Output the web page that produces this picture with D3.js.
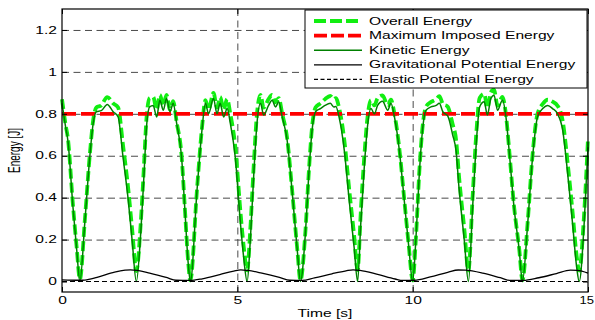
<!DOCTYPE html>
<html>
<head>
<meta charset="utf-8">
<script src="https://cdn.jsdelivr.net/npm/d3@7"></script>
<style>
  body { margin: 0; background: #fff; }
  svg { display: block; font-family: "Liberation Sans", Arial, sans-serif; }
</style>
</head>
<body>
<div id="chart"></div>
<script>
// tick values
const xTicks = [0, 5, 10, 15];
const yTicks = [0, 0.2, 0.4, 0.6, 0.8, 1, 1.2];
const xGrid = [5, 10];
const yGrid = [0.2, 0.4, 0.6, 0.8, 1, 1.2];

const maxImposed = 0.8;

// [time s, energy J]
const kineticEnergy = [
  [0, 0.85], [0.1, 0.74], [0.17, 0.67], [0.31, 0.36], [0.42, 0.15], [0.51, 0],
  [0.65, 0.28], [0.79, 0.59], [0.89, 0.755], [0.98, 0.81], [1.12, 0.815], [1.29, 0.845],
  [1.46, 0.81], [1.6, 0.785], [1.74, 0.594], [1.89, 0.387], [2.0, 0.196], [2.12, 0],
  [2.25, 0.244], [2.34, 0.515], [2.41, 0.737], [2.5, 0.833], [2.6, 0.84], [2.7, 0.785],
  [2.79, 0.865], [2.89, 0.817], [2.98, 0.873], [3.08, 0.81], [3.17, 0.85], [3.27, 0.754],
  [3.41, 0.594], [3.5, 0.355], [3.6, 0.085], [3.66, 0],
  [3.85, 0.435], [3.99, 0.72], [4.09, 0.85], [4.18, 0.8], [4.32, 0.873], [4.42, 0.8],
  [4.51, 0.85], [4.61, 0.785], [4.71, 0.825], [4.8, 0.754], [4.94, 0.594], [5.09, 0.276],
  [5.18, 0.116], [5.28, 0],
  [5.37, 0.196], [5.47, 0.515], [5.56, 0.754], [5.66, 0.85], [5.75, 0.794], [5.89, 0.84],
  [5.99, 0.865], [6.09, 0.833], [6.18, 0.857], [6.28, 0.785], [6.42, 0.674], [6.56, 0.435],
  [6.71, 0.148], [6.8, 0],
  [6.94, 0.228], [7.04, 0.515], [7.13, 0.72], [7.23, 0.81], [7.37, 0.825], [7.5, 0.84],
  [7.65, 0.85], [7.75, 0.833], [7.81, 0.835], [7.9, 0.785], [8.05, 0.626], [8.19, 0.387],
  [8.33, 0.164], [8.43, 0],
  [8.52, 0.276], [8.62, 0.546], [8.71, 0.737], [8.81, 0.825], [8.91, 0.8], [9.0, 0.84],
  [9.14, 0.86], [9.29, 0.817], [9.38, 0.85], [9.48, 0.785], [9.62, 0.626], [9.76, 0.387],
  [9.89, 0.164], [10.0, 0],
  [10.09, 0.196], [10.19, 0.515], [10.29, 0.737], [10.38, 0.817], [10.52, 0.833], [10.67, 0.84],
  [10.76, 0.85], [10.86, 0.81], [11.0, 0.79], [11.14, 0.7], [11.24, 0.62], [11.32, 0.45],
  [11.47, 0.2], [11.59, 0],
  [11.71, 0.355], [11.82, 0.674], [11.91, 0.833], [12.04, 0.857], [12.13, 0.794], [12.23, 0.873],
  [12.32, 0.889], [12.42, 0.817], [12.56, 0.865], [12.66, 0.785], [12.75, 0.626], [12.89, 0.355],
  [13.04, 0.148], [13.13, 0],
  [13.28, 0.276], [13.42, 0.594], [13.56, 0.785], [13.71, 0.825], [13.85, 0.84], [13.99, 0.825],
  [14.13, 0.8], [14.28, 0.72], [14.42, 0.515], [14.56, 0.276], [14.68, 0.064], [14.75, 0],
  [14.89, 0.276], [15.0, 0.64]
];

const overallEnergy = [
  [0, 0.87], [0.1, 0.75], [0.17, 0.68], [0.31, 0.37], [0.42, 0.16], [0.51, 0.01],
  [0.65, 0.29], [0.79, 0.6], [0.89, 0.77], [0.98, 0.83], [1.12, 0.84], [1.29, 0.88],
  [1.46, 0.85], [1.6, 0.83], [1.74, 0.65], [1.89, 0.44], [2.0, 0.25], [2.12, 0.05],
  [2.25, 0.29], [2.34, 0.56], [2.41, 0.78], [2.5, 0.875], [2.6, 0.88], [2.7, 0.82],
  [2.79, 0.89], [2.89, 0.84], [2.98, 0.89], [3.08, 0.82], [3.17, 0.86], [3.27, 0.76],
  [3.41, 0.6], [3.5, 0.36], [3.6, 0.09], [3.66, 0.005],
  [3.85, 0.44], [3.99, 0.73], [4.09, 0.865], [4.18, 0.82], [4.32, 0.9], [4.42, 0.83],
  [4.51, 0.88], [4.61, 0.82], [4.71, 0.87], [4.8, 0.8], [4.94, 0.645], [5.09, 0.33],
  [5.18, 0.17], [5.28, 0.053],
  [5.37, 0.25], [5.47, 0.56], [5.56, 0.8], [5.66, 0.89], [5.75, 0.83], [5.89, 0.87],
  [5.99, 0.89], [6.09, 0.855], [6.18, 0.875], [6.28, 0.8], [6.42, 0.684], [6.56, 0.44],
  [6.71, 0.153], [6.8, 0.005],
  [6.94, 0.236], [7.04, 0.526], [7.13, 0.734], [7.23, 0.83], [7.37, 0.85], [7.5, 0.87],
  [7.65, 0.885], [7.75, 0.87], [7.81, 0.875], [7.9, 0.83], [8.05, 0.675], [8.19, 0.44],
  [8.33, 0.22], [8.43, 0.054],
  [8.52, 0.33], [8.62, 0.595], [8.71, 0.78], [8.81, 0.865], [8.91, 0.84], [9.0, 0.875],
  [9.14, 0.888], [9.29, 0.84], [9.38, 0.867], [9.48, 0.8], [9.62, 0.634], [9.76, 0.392],
  [9.89, 0.169], [10.0, 0.005],
  [10.09, 0.2], [10.19, 0.525], [10.29, 0.75], [10.38, 0.834], [10.52, 0.856], [10.67, 0.87],
  [10.76, 0.884], [10.86, 0.848], [11.0, 0.834], [11.14, 0.75], [11.24, 0.673], [11.32, 0.505],
  [11.47, 0.255], [11.59, 0.053],
  [11.71, 0.405], [11.82, 0.72], [11.91, 0.876], [12.04, 0.895], [12.13, 0.828], [12.23, 0.903],
  [12.32, 0.916], [12.42, 0.839], [12.56, 0.881], [12.66, 0.796], [12.75, 0.633], [12.89, 0.36],
  [13.04, 0.153], [13.13, 0.005],
  [13.28, 0.284], [13.42, 0.606], [13.56, 0.8], [13.71, 0.847], [13.85, 0.867], [13.99, 0.858],
  [14.13, 0.839], [14.28, 0.765], [14.42, 0.565], [14.56, 0.331], [14.68, 0.117], [14.75, 0.052],
  [14.89, 0.324], [15.0, 0.685]
];

const gravitationalEnergy = [
  [0, 0.008], [0.5, 0.006], [0.65, 0.007], [1.0, 0.02], [1.5, 0.045], [1.8, 0.054],
  [1.95, 0.056], [2.15, 0.053], [2.5, 0.04], [3.0, 0.018], [3.25, 0.006], [3.65, 0.005],
  [4.0, 0.013], [4.5, 0.033], [4.9, 0.05], [5.1, 0.056], [5.3, 0.053], [5.7, 0.04],
  [6.2, 0.02], [6.5, 0.006], [6.85, 0.005], [7.2, 0.017], [7.7, 0.037], [8.1, 0.051],
  [8.3, 0.056], [8.5, 0.053], [9.0, 0.034], [9.5, 0.012], [9.72, 0.005], [10.05, 0.006],
  [10.5, 0.022], [11.0, 0.044], [11.3, 0.055], [11.5, 0.054], [12.0, 0.04], [12.5, 0.018],
  [12.78, 0.005], [13.15, 0.005], [13.6, 0.018], [14.1, 0.038], [14.5, 0.054], [14.7, 0.053],
  [15.0, 0.04]
];

const elasticEnergy = [[0, 0], [15, 0]];

const legendItems = [
  { label: "Overall Energy", color: "#11ee11", width: 3.8, dash: "12,4" },
  { label: "Maximum Imposed Energy", color: "#ff0000", width: 3.8, dash: "13,4" },
  { label: "Kinetic Energy", color: "#008000", width: 1.5, dash: null },
  { label: "Gravitational Potential Energy", color: "#000", width: 1.3, dash: null },
  { label: "Elastic Potential Energy", color: "#000", width: 1.2, dash: "4,2.5" }
];

const width = 595;
const height = 320;
const margin = { top: 9, right: 7, bottom: 28, left: 62 };
const sx = 1.56; // the picture's text is stretched sideways

const svg = d3.select("#chart").append("svg").attr("width", width).attr("height", height);
svg.append("rect").attr("width", width).attr("height", height).attr("fill", "#fff");

const xScale = d3.scaleLinear().domain([0, 15]).range([margin.left, width - margin.right]);
const yScale = d3.scaleLinear().domain([-0.05, 1.3]).range([height - margin.bottom, margin.top]);

const plotW = width - margin.left - margin.right;
const plotH = height - margin.top - margin.bottom;

// gridlines
const grid = svg.append("g").attr("class", "gridlines");
grid.append("g")
  .attr("transform", `translate(${margin.left},0)`)
  .call(d3.axisLeft(yScale).tickValues(yGrid).tickFormat("").tickSize(-plotW))
  .call((g) => g.select(".domain").remove());
grid.append("g")
  .attr("transform", `translate(0,${height - margin.bottom})`)
  .call(d3.axisBottom(xScale).tickValues(xGrid).tickFormat("").tickSize(-plotH))
  .call((g) => g.select(".domain").remove());
grid.selectAll("line").attr("stroke", "#4a4a4a").attr("stroke-width", 1).attr("stroke-dasharray", "7,4.5");

// curves
const line = d3.line().x((d) => xScale(d[0])).y((d) => yScale(d[1])).curve(d3.curveMonotoneX);
const curves = svg.append("g").attr("fill", "none");

curves.append("path").datum(overallEnergy).attr("d", line)
  .attr("stroke", "#11ee11").attr("stroke-width", 3.8).attr("stroke-dasharray", "10,4");
curves.append("path").datum([[0, maxImposed], [15, maxImposed]]).attr("d", line)
  .attr("stroke", "#ff0000").attr("stroke-width", 3.8).attr("stroke-dasharray", "14,5");
curves.append("path").datum(kineticEnergy).attr("d", line)
  .attr("stroke", "#008000").attr("stroke-width", 1.5);
curves.append("path").datum(gravitationalEnergy).attr("d", line)
  .attr("stroke", "#000").attr("stroke-width", 1.3);
curves.append("path").datum(elasticEnergy).attr("d", line)
  .attr("stroke", "#000").attr("stroke-width", 1.2).attr("stroke-dasharray", "5,3");

// axes with inward ticks
const axes = svg.append("g").attr("font-size", 10);
const xAxis = axes.append("g")
  .attr("transform", `translate(0,${height - margin.bottom})`)
  .call(d3.axisBottom(xScale).tickValues(xTicks).tickFormat(d3.format("d")).tickSize(-5).tickPadding(5));
xAxis.selectAll("text").attr("transform", `scale(${sx},1)`).attr("font-size", 10).attr("fill", "#000")
  .attr("font-family", "Liberation Sans, Arial, sans-serif");
// the last label sits against the right edge of the picture
xAxis.selectAll("text").filter((d) => d === 15)
  .attr("text-anchor", "end").attr("x", 6.5 / sx).attr("transform", `scale(1.3,1)`);

const yAxis = axes.append("g")
  .attr("transform", `translate(${margin.left},0)`)
  .call(d3.axisLeft(yScale).tickValues(yTicks).tickFormat((d) => String(d)).tickSize(-5).tickPadding(0));
yAxis.selectAll("text").attr("x", -5 / sx).attr("transform", `scale(${sx},1)`).attr("font-size", 10)
  .attr("fill", "#000").attr("font-family", "Liberation Sans, Arial, sans-serif");

axes.append("g")
  .attr("transform", `translate(0,${margin.top})`)
  .call(d3.axisTop(xScale).tickValues(xTicks).tickFormat("").tickSize(-5));
axes.append("g")
  .attr("transform", `translate(${width - margin.right},0)`)
  .call(d3.axisRight(yScale).tickValues(yTicks).tickFormat("").tickSize(-5));
axes.selectAll(".domain").remove();
axes.selectAll("line").attr("stroke", "#000");

svg.append("rect")
  .attr("x", margin.left).attr("y", margin.top)
  .attr("width", plotW).attr("height", plotH)
  .attr("fill", "none").attr("stroke", "#000").attr("stroke-width", 1.2);

// axis titles
svg.append("text")
  .attr("transform", `translate(${(margin.left + width - margin.right) / 2},317) scale(${sx},1)`)
  .attr("text-anchor", "middle").attr("font-size", 10).text("Time [s]");
svg.append("text")
  .attr("transform", `translate(19.5,${margin.top + plotH / 2}) scale(${sx},1) rotate(-90)`)
  .attr("text-anchor", "middle").attr("font-size", 10).text("Energy [J]");

// legend
const legend = svg.append("g").attr("transform", "translate(305,10)");
legend.append("rect").attr("width", 282).attr("height", 78)
  .attr("fill", "#fff").attr("stroke", "#000").attr("stroke-width", 1);
const rows = legend.selectAll("g.row").data(legendItems).join("g")
  .attr("class", "row")
  .attr("transform", (d, i) => `translate(0,${11 + i * 14.6})`);
rows.append("line").attr("x1", 9).attr("x2", 57)
  .attr("stroke", (d) => d.color).attr("stroke-width", (d) => d.width)
  .attr("stroke-dasharray", (d) => d.dash);
rows.append("text").attr("transform", `translate(64,3.6) scale(${sx},1)`)
  .attr("font-size", 10).text((d) => d.label);
</script>
</body>
</html>
